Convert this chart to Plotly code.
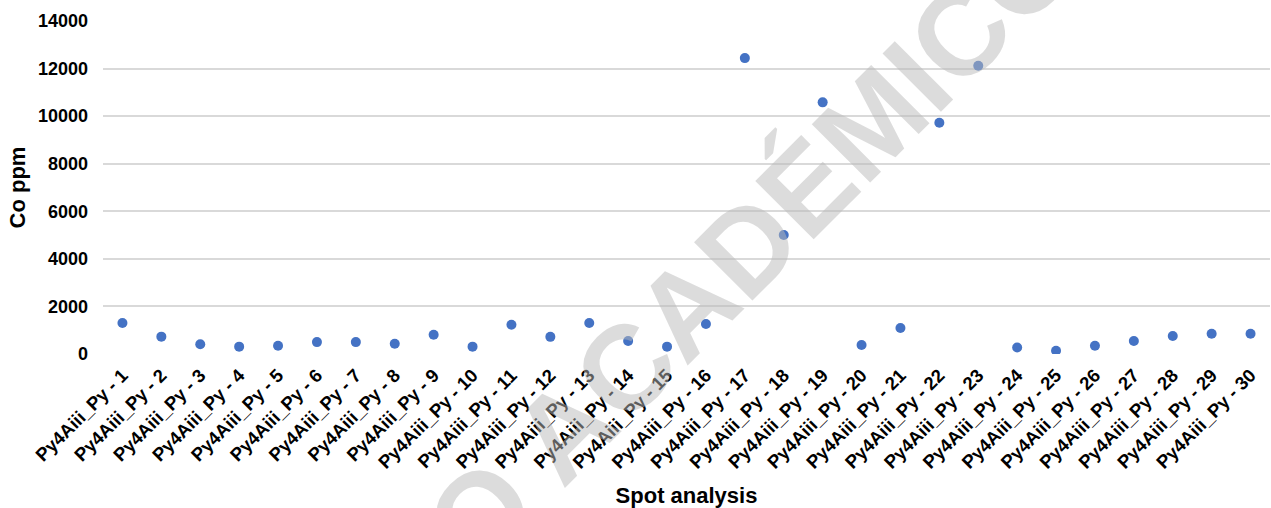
import plotly.graph_objects as go

spots = [f"Py4Aiii_Py - {i}" for i in range(1, 31)]
co_ppm = [1300, 730, 410, 310, 350, 500, 500, 430, 810, 310,
          1230, 720, 1300, 550, 310, 1260, 12440, 5000, 10580, 380,
          1090, 9720, 12120, 270, 140, 350, 550, 760, 850, 850]
y_ticks = [0, 2000, 4000, 6000, 8000, 10000, 12000, 14000]

FONT = "Arial, Liberation Sans, sans-serif"

fig = go.Figure()
fig.add_trace(go.Scatter(
    x=spots, y=co_ppm, mode="markers",
    marker=dict(color="#4472C4", size=10, line=dict(width=0)),
    showlegend=False,
))

fig.update_layout(
    width=1271, height=508,
    margin=dict(l=103, r=1, t=21, b=154),
    plot_bgcolor="white", paper_bgcolor="white",
    font=dict(family=FONT, color="black"),
    xaxis=dict(
        automargin=False,
        range=[-0.5, len(spots) - 0.5],
        tickangle=-45,
        tickfont=dict(family=FONT, size=18.5, color="black", weight="bold"),
        showgrid=False, zeroline=False, showline=False,
        ticks="", ticklabelstandoff=6,
        title=dict(text="<b>Spot analysis</b>", font=dict(family=FONT, size=22, color="black"), standoff=18),
    ),
    yaxis=dict(
        automargin=False,
        range=[0, 14000], tickvals=y_ticks, tickformat="d",
        tickfont=dict(family=FONT, size=18, color="black", weight="bold"),
        showgrid=True, gridcolor="#d9d9d9", gridwidth=1.5,
        zeroline=False, showline=False, ticks="",
        ticklabelstandoff=14,
        title=dict(text="<b>Co ppm</b>", font=dict(family=FONT, size=22, color="black"), standoff=6),
    ),
)

fig.add_annotation(
    text="<b>USO ACADÉMICO</b>", xref="paper", yref="paper",
    x=0.505, y=0.16, xanchor="center", yanchor="middle",
    textangle=-45, showarrow=False,
    font=dict(family=FONT, size=120, color="rgba(185,185,185,0.5)"),
)

fig.write_html("out.html", post_script="document.body.style.margin='0';",
               config={"displayModeBar": False})
